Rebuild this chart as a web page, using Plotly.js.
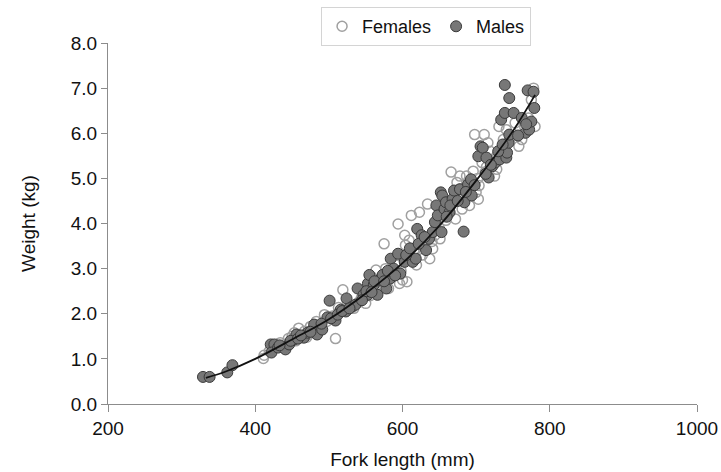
<!DOCTYPE html>
<html>
<head>
<meta charset="utf-8">
<script src="https://cdn.plot.ly/plotly-3.0.1.min.js"></script>
<style>html,body{margin:0;padding:0;background:#fff;}#chart{width:721px;height:472px;}</style>
</head>
<body>
<div id="chart"></div>
<script>
// Females (hollow circles): fork length (mm), weight (kg)
const femaleLength = [411,412,419,428,434,437,450,453,459,462,467,472,475,483,487,494,497,509,513,519,521,528,534,544,550,553,558,562,564,567,575,577,581,587,592,594,596,600,602,603,604,606,609,612,616,619,623,627,631,634,637,641,644,647,651,654,659,666,669,672,674,677,678,681,684,687,691,696,698,700,703,704,708,711,712,716,719,722,725,728,731,734,737,741,748,753,758,762,766,771,775,778,780,
  440,445,455,470,480,505,515,525,540,548,556,570,585,598,613,620,640,650,662,676,690,702,714,728,745,760];
const femaleWeight = [1.01,1.08,1.17,1.28,1.36,1.25,1.50,1.58,1.68,1.47,1.61,1.54,1.72,1.83,1.70,1.98,1.83,1.45,2.14,2.53,2.09,2.16,2.12,2.34,2.23,2.56,2.82,2.53,2.97,2.71,3.55,3.00,2.56,2.93,3.08,3.99,2.67,2.75,3.22,3.74,3.52,2.71,3.63,4.18,3.37,3.08,4.25,3.30,3.59,4.43,3.22,3.44,3.74,4.03,3.66,4.25,4.07,5.14,4.47,4.10,4.91,4.76,5.05,4.32,4.62,5.05,4.40,5.16,5.97,4.69,4.54,4.84,5.35,5.97,5.13,5.79,5.60,5.42,5.05,5.20,6.15,5.64,5.86,6.08,5.93,6.23,5.71,5.86,6.15,6.34,6.74,7.00,6.15,
  1.32,1.45,1.40,1.48,1.62,1.95,2.05,2.20,2.25,2.45,2.40,2.62,2.80,2.95,3.20,3.40,3.60,3.90,4.20,4.60,4.85,5.00,5.25,5.50,5.85,6.10];

// Males (filled circles)
const maleLength = [329,338,362,369,421,426,422,431,441,446,453,456,466,471,478,480,484,491,498,501,509,516,523,524,532,536,539,547,553,555,553,561,566,569,573,578,583,584,588,594,597,603,614,618,620,626,632,636,641,644,646,648,652,653,654,657,659,664,668,670,678,683,684,689,694,693,703,706,709,714,717,722,726,732,734,739,739,741,742,744,745,745,751,762,767,770,772,775,778,779,
  433,448,458,462,475,490,503,512,518,528,545,551,558,562,575,580,590,605,610,622,630,660,665,675,686,698,713,720,730,736,757,768];
const maleWeight = [0.60,0.60,0.70,0.86,1.32,1.32,1.14,1.25,1.21,1.32,1.43,1.54,1.47,1.58,1.65,1.76,1.54,1.65,1.92,2.29,1.85,2.09,2.05,2.34,2.16,2.20,2.56,2.42,2.67,2.86,2.42,2.64,2.42,2.75,2.86,2.56,2.78,3.22,3.00,3.33,2.89,3.15,3.15,3.22,3.88,3.74,3.41,3.66,3.81,4.03,4.40,4.18,4.69,3.81,4.62,4.32,4.47,4.25,4.54,4.73,4.76,3.82,4.47,4.87,4.62,4.98,5.49,5.71,5.68,5.46,5.02,5.27,5.35,5.42,6.30,6.45,7.07,5.46,5.57,5.79,5.97,6.78,6.45,6.34,6.01,6.95,6.08,6.26,6.92,6.56,
  1.30,1.40,1.45,1.52,1.60,1.78,1.90,1.98,2.06,2.12,2.30,2.50,2.48,2.72,2.72,2.95,2.85,3.30,3.45,3.55,3.70,4.15,4.40,4.50,4.70,4.85,5.10,5.30,5.60,5.75,5.95,6.20];

// Fitted curve
const fitLength = [333,360,400,450,500,550,600,650,700,750,780];
const fitWeight = [0.58,0.72,1.00,1.43,1.88,2.45,3.12,3.95,4.95,6.05,6.85];

const xTicks = [200,400,600,800,1000];
const yTicks = [0,1,2,3,4,5,6,7,8];

const font = 'Liberation Sans, Arial, sans-serif';

const traces = [
  {x: femaleLength, y: femaleWeight, type: 'scatter', mode: 'markers', name: 'Females',
   marker: {symbol: 'circle', size: 10, color: 'rgba(255,255,255,0)', line: {color: '#a0a0a0', width: 1.5}}},
  {x: maleLength, y: maleWeight, type: 'scatter', mode: 'markers', name: 'Males',
   marker: {symbol: 'circle', size: 11, color: '#777777', line: {color: '#3a3a3a', width: 1}}},
  {x: fitLength, y: fitWeight, type: 'scatter', mode: 'lines', name: 'fit', showlegend: false,
   line: {color: '#111', width: 1.8, shape: 'spline'}}
];

const layout = {
  width: 721, height: 472,
  margin: {l: 108, r: 24, t: 43, b: 68, autoexpand: false},
  paper_bgcolor: '#fff', plot_bgcolor: '#fff',
  font: {family: font, color: '#111', size: 19},
  showlegend: true,
  legend: {orientation: 'h', x: 0.54, xanchor: 'center', yref: 'container', y: 0.985, yanchor: 'top',
           bordercolor: '#d4d4d4', borderwidth: 1, font: {size: 18, color: '#111'},
           itemwidth: 30, tracegroupgap: 0},
  xaxis: {range: [200, 1000], tickvals: xTicks, ticktext: xTicks.map(String),
          showgrid: false, zeroline: false, showline: true, linecolor: '#8c8c8c', linewidth: 1,
          ticks: 'outside', ticklen: 7, tickcolor: '#8c8c8c', tickfont: {size: 19},
          title: {text: 'Fork length (mm)', font: {size: 19}, standoff: 14}},
  yaxis: {range: [0, 8], tickvals: yTicks, ticktext: yTicks.map(v => v.toFixed(1)),
          showgrid: false, zeroline: false, showline: true, linecolor: '#8c8c8c', linewidth: 1,
          ticks: 'outside', ticklen: 6, tickcolor: '#8c8c8c', tickfont: {size: 19},
          title: {text: 'Weight (kg)', font: {size: 19}, standoff: 30}}
};

Plotly.newPlot('chart', traces, layout, {displayModeBar: false, staticPlot: true});
</script>
</body>
</html>
